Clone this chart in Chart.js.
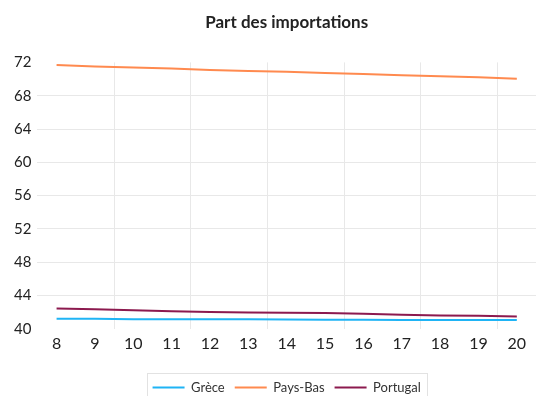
<!DOCTYPE html>
<html>
<head>
<meta charset="utf-8">
<script src="https://cdn.jsdelivr.net/npm/chart.js@4.4.1/dist/chart.umd.min.js"></script>
<style>
  html, body { margin: 0; padding: 0; background: #ffffff; overflow: hidden; }
  #wrap { width: 536px; height: 404px; position: relative; }
</style>
</head>
<body>
<div id="wrap"><canvas id="chart"></canvas></div>
<script>
// Données
const annees = ['8', '9', '10', '11', '12', '13', '14', '15', '16', '17', '18', '19', '20'];
const grece = [41.2, 41.2, 41.15, 41.15, 41.15, 41.15, 41.12, 41.08, 41.08, 41.07, 41.07, 41.06, 41.05];
const paysBas = [71.68, 71.52, 71.4, 71.26, 71.1, 70.97, 70.88, 70.72, 70.6, 70.47, 70.35, 70.23, 70.03];
const portugal = [42.45, 42.35, 42.24, 42.12, 42.03, 41.95, 41.93, 41.89, 41.8, 41.69, 41.61, 41.57, 41.49];

const LEG_FONT = 13;
const LEG_BOX = 32;
const LEG_PAD = 10;

// Titre et légende centrés sur la zone du graphique + cadre gris autour de la légende
const legendBox = {
    id: 'legendBox',
    afterLayout(chart) {
        const center = (chart.chartArea.left + chart.chartArea.right) / 2;
        [chart.legend, chart.titleBlock].forEach(b => {
            if (!b) return;
            const w = b.right - b.left;
            b.left = center - w / 2;
            b.right = center + w / 2;
        });
    },
    afterDraw(chart) {
        const lg = chart.legend;
        if (!lg) return;
        const ctx = chart.ctx;
        ctx.save();
        ctx.font = LEG_FONT + 'px Lato';
        let total = 0;
        chart.data.datasets.forEach((ds, i) => {
            total += LEG_BOX + LEG_FONT / 2 + ctx.measureText(ds.label).width;
            if (i > 0) total += LEG_PAD;
        });
        const center = (lg.left + lg.right) / 2;
        const x0 = Math.round(center - total / 2 - 6);
        const x1 = Math.round(center + total / 2 + 6);
        const y0 = Math.round(lg.top + LEG_PAD - 8);
        ctx.strokeStyle = '#e2e2e2';
        ctx.lineWidth = 1;
        ctx.strokeRect(x0 + 0.5, y0 + 0.5, x1 - x0, 40);
        ctx.restore();
    }
};

const ctx = document.getElementById('chart').getContext('2d');
new Chart(ctx, {
    type: 'line',
    data: {
        labels: annees,
        datasets: [
            { label: 'Grèce', data: grece, borderColor: '#1fb4f5', backgroundColor: '#1fb4f5', borderWidth: 2 },
            { label: 'Pays-Bas', data: paysBas, borderColor: '#ff8a4f', backgroundColor: '#ff8a4f', borderWidth: 2 },
            { label: 'Portugal', data: portugal, borderColor: '#8c1a4f', backgroundColor: '#8c1a4f', borderWidth: 2 }
        ]
    },
    options: {
        responsive: true,
        maintainAspectRatio: false,
        animation: false,
        layout: { padding: { left: 8, right: 0, top: 0, bottom: 0 } },
        elements: {
            line: { tension: 0 },
            point: { radius: 0 }
        },
        plugins: {
            title: {
                display: true,
                text: 'Part des importations',
                color: '#222222',
                font: { family: 'Lato', size: 17, weight: 'bold' },
                padding: { top: 12, bottom: 30 }
            },
            legend: {
                position: 'bottom',
                labels: {
                    color: '#333333',
                    boxWidth: LEG_BOX,
                    boxHeight: 2,
                    padding: LEG_PAD,
                    font: { family: 'Lato', size: LEG_FONT },
                    generateLabels: chart => chart.data.datasets.map((ds, i) => ({
                        text: ds.label,
                        fillStyle: ds.borderColor,
                        strokeStyle: ds.borderColor,
                        lineWidth: 0,
                        fontColor: '#333333',
                        datasetIndex: i,
                        hidden: false
                    }))
                }
            },
            tooltip: { enabled: false }
        },
        scales: {
            x: {
                offset: true,
                border: { display: false },
                grid: {
                    offset: true,
                    drawTicks: false,
                    color: c => (c.index > 0 && c.index % 2 === 0) ? '#e8e8e8' : 'rgba(0,0,0,0)'
                },
                ticks: {
                    color: '#222222',
                    padding: 5,
                    autoSkip: false,
                    maxRotation: 0,
                    font: { family: 'Lato', size: 16 }
                },
                afterFit: scale => { scale.height += 13; }
            },
            y: {
                min: 40,
                max: 72,
                border: { display: false },
                grid: {
                    drawTicks: false,
                    color: c => (c.tick.value === 40 || c.tick.value === 72) ? 'rgba(0,0,0,0)' : '#e8e8e8'
                },
                ticks: {
                    stepSize: 4,
                    color: '#222222',
                    padding: 6,
                    font: { family: 'Lato', size: 15 }
                }
            }
        }
    },
    plugins: [legendBox]
});
</script>
</body>
</html>
